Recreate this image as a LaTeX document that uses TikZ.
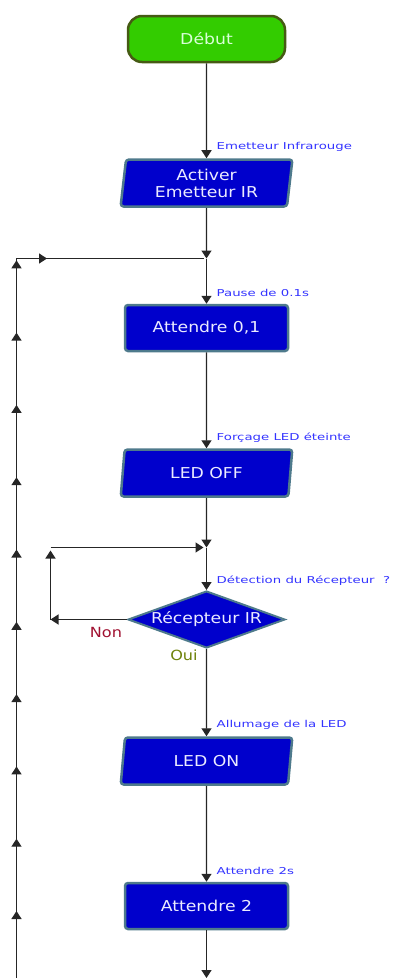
\documentclass[tikz,border=0pt]{standalone}
\usepackage{fontspec}
\usepackage{tikz}
\usetikzlibrary{arrows.meta,calc,shapes.geometric,decorations.markings}
\newfontfamily\boxfont[FakeStretch=1.15]{DejaVu Sans}
\newfontfamily\lblfont[FakeStretch=1.4]{DejaVu Sans}
\definecolor{boxblue}{RGB}{0,0,204}
\definecolor{boxedge}{RGB}{78,122,140}
\definecolor{startgreen}{RGB}{51,204,0}
\definecolor{startedge}{RGB}{70,90,20}
\definecolor{lblblue}{RGB}{51,51,255}
\definecolor{nonred}{RGB}{160,16,48}
\definecolor{ouigreen}{RGB}{110,130,10}
\tikzset{
  flow/.style={draw=black!85, line width=1.4pt, -{Triangle[width=10pt,length=8pt]}},
  wire/.style={draw=black!85, line width=1.4pt},
  upmarks/.style={postaction={decorate}, decoration={markings,
    mark=between positions 67pt and 720pt step 72.3pt with {\arrow{Triangle[width=10pt,length=8pt]}},
    mark=at position 750pt with {\arrow{Triangle[width=10pt,length=8pt]}}}},
  startbox/.style={draw=startedge, line width=2.5pt, fill=startgreen, rounded corners=14pt,
    minimum width=157, minimum height=46, text=green!15, font=\boxfont\fontsize{15}{17}\selectfont},
  iobox/.style={trapezium, trapezium left angle=84, trapezium right angle=96, trapezium stretches=true,
    draw=boxedge, line width=2.5pt, fill=boxblue, rounded corners=3pt, minimum width=172, minimum height=47,
    text=blue!8, align=center, font=\boxfont\fontsize{15}{17}\selectfont},
  waitbox/.style={rectangle, draw=boxedge, line width=2.5pt, fill=boxblue, rounded corners=3pt,
    minimum width=163, minimum height=46, text=blue!8, font=\boxfont\fontsize{15}{17}\selectfont},
  decision/.style={diamond, aspect=2.75, inner sep=0pt, draw=boxedge, line width=2pt, fill=boxblue,
    minimum width=157, minimum height=57},
  boxtxt/.style={text=blue!8, font=\boxfont\fontsize{15}{17}\selectfont},
  lbl/.style={anchor=west, inner sep=0pt, text=lblblue, font=\lblfont\fontsize{9.5}{11}\selectfont},
  ans/.style={inner sep=0pt, font=\boxfont\fontsize{14}{16}\selectfont}
}
\begin{document}
\begin{tikzpicture}[x=1pt, y=-1pt]
\useasboundingbox (0,0) rectangle (398,978);

% blocks
\node[startbox] (debut) at (206.5,39) {Début};
\node[iobox] (emet) at (206.5,183) {Activer\\Emetteur IR};
\node[waitbox] (attA) at (206.5,328) {Attendre 0,1};
\node[iobox] (ledoff) at (206.5,473) {LED OFF};
\node[decision, label={[boxtxt]center:Récepteur IR}] (recep) at (206.5,619.5) {};
\node[iobox] (ledon) at (206.5,761) {LED ON};
\node[waitbox] (attB) at (206.5,906) {Attendre 2};

% comments
\node[lbl] (cEmet) at ([xshift=10pt,yshift=11pt]emet.north) {Emetteur Infrarouge};
\node[lbl] (cPause) at ([xshift=10pt,yshift=11pt]attA.north) {Pause de 0.1s};
\node[lbl] (cOff) at ([xshift=10pt,yshift=11pt]ledoff.north) {Forçage LED éteinte};
\node[lbl] (cDet) at ([xshift=10pt,yshift=9pt]recep.north) {Détection du Récepteur\ \ ?};
\node[lbl] (cOn) at ([xshift=10pt,yshift=11pt]ledon.north) {Allumage de la LED};
\node[lbl] (cWait) at ([xshift=10pt,yshift=11pt]attB.north) {Attendre 2s};

% junctions
\coordinate (jtop) at (206.5,258.5);
\coordinate (jmid) at (206.5,547.5);
\coordinate (bot) at (206.5,978);
\coordinate (loopB) at (16.5,978);
\coordinate (loopT) at (16.5,258.5);
\coordinate (nonL) at (50.5,619.5);
\coordinate (nonT) at (50.5,547.5);

% main flow
\draw[flow] (debut.south) -- (emet.north);
\draw[flow] (emet.south) -- (jtop);
\draw[flow] (jtop) -- (attA.north);
\draw[flow] (attA.south) -- (ledoff.north);
\draw[flow] (ledoff.south) -- (jmid);
\draw[flow] (jmid) -- (recep.north);
\draw[flow] (recep.south) -- (ledon.north);
\draw[flow] (ledon.south) -- (attB.north);
\draw[flow] (attB.south) -- (bot);

% outer loop
\draw[wire, upmarks] (loopB) -- (loopT) -- ([xshift=-3pt]jtop);

% inner loop (Non)
\draw[flow] (recep.west) -- (nonL);
\draw[flow] (nonL) -- ([yshift=-3pt]nonT);
\draw[flow] (nonT) -- ([xshift=-3pt]jmid);

\node[ans, text=nonred] (non) at (106,632) {Non};
\node[ans, text=ouigreen] (oui) at (184,655) {Oui};
\end{tikzpicture}
\end{document}
